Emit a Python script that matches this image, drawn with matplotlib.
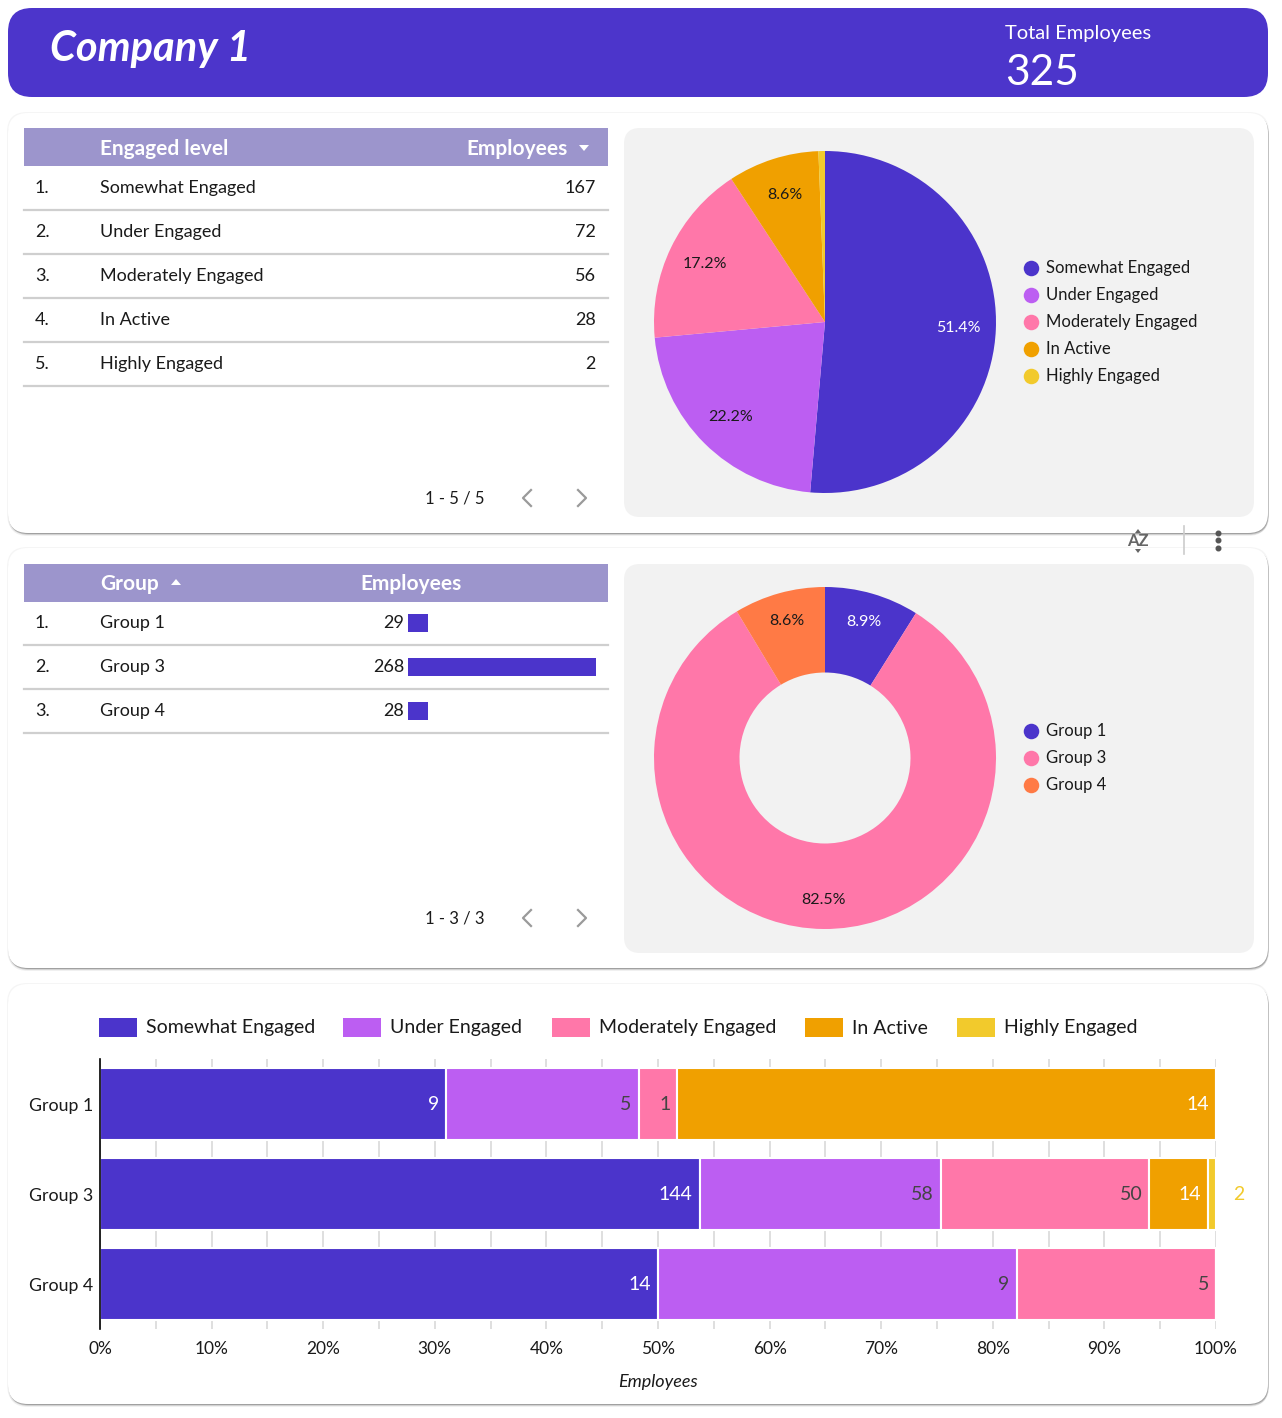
from __future__ import annotations

import matplotlib

matplotlib.use("Agg")

import matplotlib.pyplot as plt
from matplotlib.patches import FancyBboxPatch, Polygon, Rectangle

W, H = 1282, 1418
FONT = "Lato"

COMPANY = "Company 1"
TOTAL_LABEL = "Total Employees"
TOTAL_EMPLOYEES = 325

LEVELS = ["Somewhat Engaged", "Under Engaged", "Moderately Engaged", "In Active", "Highly Engaged"]
LEVEL_COUNTS = [167, 72, 56, 28, 2]

GROUPS = ["Group 1", "Group 3", "Group 4"]
GROUP_COUNTS = [29, 268, 28]

# employees per engaged level, one value per group (Group 1, Group 3, Group 4)
SOMEWHAT = [9, 144, 14]
UNDER = [5, 58, 9]
MODERATELY = [1, 50, 5]
IN_ACTIVE = [14, 14, 0]
HIGHLY = [0, 2, 0]

PCT_TICKS = [0, 10, 20, 30, 40, 50, 60, 70, 80, 90, 100]

LEVEL_COLORS = ["#4B34CB", "#BC5EF2", "#FF77A9", "#F0A000", "#F2CA2C"]
GROUP_COLORS = ["#4B34CB", "#FF77A9", "#FF7A45"]
LABEL_INK = ["white", "#444444", "#444444", "white", "#F2CA2C"]
HEADER_BAND = "#9C95CC"
PANEL_GREY = "#F2F2F2"
TEXT = "#1a1a1a"


def _px_axes(fig, x0: float, y0: float, x1: float, y1: float):
    return fig.add_axes((x0 / W, 1 - y1 / H, (x1 - x0) / W, (y1 - y0) / H))


def _rounded(bg, x0, y0, x1, y1, color, radius=18, shadow=False, z=1):
    style = f"round,pad=0,rounding_size={radius}"
    if shadow:
        for dx, dy, alpha in ((0, 3, 0.06), (1, 2, 0.12), (0.5, 1, 0.2)):
            bg.add_patch(FancyBboxPatch((x0 + dx, y0 + dy), x1 - x0, y1 - y0, boxstyle=style,
                                        fc=(0, 0, 0, alpha), ec="none", zorder=z))
        bg.add_patch(FancyBboxPatch((x0 - 1, y0 - 1), x1 - x0 + 2, y1 - y0 + 2, boxstyle=style,
                                    fc=(0, 0, 0, 0.04), ec="none", zorder=z))
    bg.add_patch(FancyBboxPatch((x0, y0), x1 - x0, y1 - y0, boxstyle=style, fc=color, ec="none", zorder=z))


def _text(bg, x, y, s, size=13, color=TEXT, ha="left", **kw):
    bg.text(x, y, s, fontsize=size, color=color, ha=ha, va="center", family=FONT, zorder=5, **kw)


def _pager(bg, y, label):
    _text(bg, 455, y, label, size=12, ha="center")
    bg.plot([531, 523, 531], [y - 8, y, y + 8], color="#9a9a9a", lw=1.6, zorder=5)
    bg.plot([578, 586, 578], [y - 8, y, y + 8], color="#9a9a9a", lw=1.6, zorder=5)


def _table_header(bg, top):
    bg.add_patch(Rectangle((24, top), 584, 38, fc=HEADER_BAND, ec="none", zorder=3))


def _row_lines(bg, first_center, n):
    for i in range(n):
        y = first_center + 44 * i + 21.5
        bg.plot([24, 608], [y, y], color="#cfcfcf", lw=1.6, zorder=4)


def _pie_legend(bg, x, y0, names, colors):
    for i, (name, color) in enumerate(zip(names, colors)):
        y = y0 + 27 * i
        bg.scatter([x], [y], s=125, color=color, zorder=5, linewidths=0)
        _text(bg, x + 15, y, name, size=12)


def _pie(fig, cx, cy, r, values, colors, inks, pct_dist, width=None):
    ax = _px_axes(fig, cx - r, cy - r, cx + r, cy + r)
    wedge = {"linewidth": 0}
    if width is not None:
        wedge["width"] = width
    _, _, autotexts = ax.pie(
        values,
        colors=colors,
        startangle=90,
        counterclock=False,
        autopct=lambda p: f"{p:.1f}%" if p >= 5 else "",
        pctdistance=pct_dist,
        wedgeprops=wedge,
        textprops={"fontsize": 11.5, "family": FONT},
    )
    for t, ink in zip(autotexts, inks):
        t.set_color(ink)
    ax.set_xlim(-1, 1)
    ax.set_ylim(-1, 1)
    ax.set_axis_off()
    return ax


def main() -> None:
    fig = plt.figure(figsize=(W / 100, H / 100), dpi=100, facecolor="white")
    bg = fig.add_axes((0, 0, 1, 1))
    bg.set_xlim(0, W)
    bg.set_ylim(H, 0)
    bg.set_axis_off()

    # header banner
    _rounded(bg, 8, 8, 1268, 97, "#4C35CB", radius=24)
    _text(bg, 50, 49, COMPANY, size=30, color="white", weight="bold", style="italic")
    _text(bg, 1005, 34, TOTAL_LABEL, size=14.5, color="white")
    _text(bg, 1005, 73, f"{TOTAL_EMPLOYEES}", size=30.5, color="white")

    # cards
    for top, bottom in ((113, 533), (548, 968), (984, 1404)):
        _rounded(bg, 8, top, 1268, bottom, "white", radius=20, shadow=True)
    _rounded(bg, 624, 128, 1254, 517, PANEL_GREY, radius=16, z=2)
    _rounded(bg, 624, 564, 1254, 953, PANEL_GREY, radius=16, z=2)

    # engaged level table
    _table_header(bg, 128)
    _text(bg, 100, 149, "Engaged level", size=15, color="white", weight="bold")
    _text(bg, 568, 149, "Employees", size=15, color="white", weight="bold", ha="right")
    bg.add_patch(Polygon([(579, 145), (589, 145), (584, 151)], closed=True, fc="white", ec="none", zorder=5))
    for i, (name, count) in enumerate(zip(LEVELS, LEVEL_COUNTS)):
        y = 188 + 44 * i
        _text(bg, 35, y, f"{i + 1}.")
        _text(bg, 100, y, name)
        _text(bg, 596, y, f"{count}", ha="right")
    _row_lines(bg, 188, len(LEVELS))
    _pager(bg, 498, f"1 - {len(LEVELS)} / {len(LEVELS)}")

    # group table
    _table_header(bg, 564)
    _text(bg, 100, 584, "Group", size=15, color="white", weight="bold")
    bg.add_patch(Polygon([(171, 585), (181, 585), (176, 579)], closed=True, fc="white", ec="none", zorder=5))
    _text(bg, 360, 584, "Employees", size=15, color="white", weight="bold")
    for i, (name, count) in enumerate(zip(GROUPS, GROUP_COUNTS)):
        y = 623 + 44 * i
        _text(bg, 35, y, f"{i + 1}.")
        _text(bg, 100, y, name)
        _text(bg, 404, y, f"{count}", ha="right")
    _row_lines(bg, 623, len(GROUPS))
    _pager(bg, 918, f"1 - {len(GROUPS)} / {len(GROUPS)}")

    tb = _px_axes(fig, 408, 601, 596, 733)
    tb.barh(range(len(GROUPS)), GROUP_COUNTS, height=18 / 44, color=LEVEL_COLORS[0])
    tb.set_xlim(0, max(GROUP_COUNTS))
    tb.set_ylim(len(GROUPS) - 0.5, -0.5)
    tb.set_axis_off()

    # pies
    _pie(fig, 825, 322, 171, LEVEL_COUNTS, LEVEL_COLORS, ["white"] + [TEXT] * 4, 0.78)
    _pie_legend(bg, 1031, 268, LEVELS, LEVEL_COLORS)
    _pie(fig, 825, 758, 171, GROUP_COUNTS, GROUP_COLORS, ["white", TEXT, TEXT], 0.83, width=0.5)
    _pie_legend(bg, 1031, 731, GROUPS, GROUP_COLORS)

    # little toolbar between cards
    _text(bg, 1138, 541, "AZ", size=12, color="#666666", ha="center", weight="bold")
    bg.add_patch(Polygon([(1135, 533), (1141, 533), (1138, 529)], closed=True, fc="#666666", ec="none", zorder=5))
    bg.add_patch(Polygon([(1135, 549), (1141, 549), (1138, 553)], closed=True, fc="#666666", ec="none", zorder=5))
    bg.plot([1184, 1184], [526, 554], color="#cccccc", lw=1.2, zorder=5)
    bg.plot([1218] * 3, [532.5, 540, 547.5], "o", color="#555555", ms=3.3, zorder=5)

    # stacked percentage bars
    series = [SOMEWHAT, UNDER, MODERATELY, IN_ACTIVE, HIGHLY]
    totals = [sum(col) for col in zip(*series)]
    for i, name in enumerate(LEVELS):
        x = 99 + [0, 244, 453, 706, 858][i]
        bg.add_patch(Rectangle((x, 1018), 38, 19, fc=LEVEL_COLORS[i], ec="none", zorder=5))
        _text(bg, x + 47, 1028, name, size=14)

    ax = _px_axes(fig, 100, 1059, 1216, 1329)
    ypos = list(range(len(GROUPS)))
    left = [0.0] * len(GROUPS)
    for values, color, ink in zip(series, LEVEL_COLORS, LABEL_INK):
        pct = [100 * v / t for v, t in zip(values, totals)]
        ax.barh(ypos, pct, left=left, height=0.8, color=color, edgecolor="white", linewidth=1.5, zorder=3)
        for y, v, p, l0 in zip(ypos, values, pct, left):
            if v == 0:
                continue
            end = l0 + p
            if p < 3:
                ax.annotate(f"{v}", (end, y), xytext=(17, 0), textcoords="offset pixels",
                            ha="left", va="center", color=ink, fontsize=14, family=FONT, zorder=6,
                            annotation_clip=False)
            else:
                ax.annotate(f"{v}", (end, y), xytext=(-7, 0), textcoords="offset pixels",
                            ha="right", va="center", color=ink, fontsize=14, family=FONT, zorder=6)
        left = [a + b for a, b in zip(left, pct)]

    ax.set_xlim(0, 100)
    ax.set_ylim(len(GROUPS) - 0.5, -0.5)
    ax.set_yticks(ypos, GROUPS)
    ax.set_xticks(PCT_TICKS, [f"{t}%" for t in PCT_TICKS])
    ax.set_xticks(range(5, 100, 10), minor=True)
    ax.grid(True, axis="x", which="both", color="#dcdcdc", lw=1.3, zorder=0)
    ax.tick_params(axis="both", which="both", length=0, labelsize=12.5, labelcolor=TEXT)
    ax.tick_params(axis="x", pad=9)
    ax.tick_params(axis="y", pad=5, labelsize=12.8)
    for lab in ax.get_xticklabels() + ax.get_yticklabels():
        lab.set_family(FONT)
    for side in ("top", "right", "bottom"):
        ax.spines[side].set_visible(False)
    ax.spines["left"].set_color("black")
    ax.spines["left"].set_linewidth(1.2)
    ax.spines["left"].set_zorder(4)
    ax.set_facecolor("none")
    ax.set_xlabel("Employees", fontsize=13, style="italic", family=FONT, color=TEXT, labelpad=12)

    fig.savefig("out.png", dpi=100, facecolor="white")
    plt.close(fig)


if __name__ == "__main__":
    main()
